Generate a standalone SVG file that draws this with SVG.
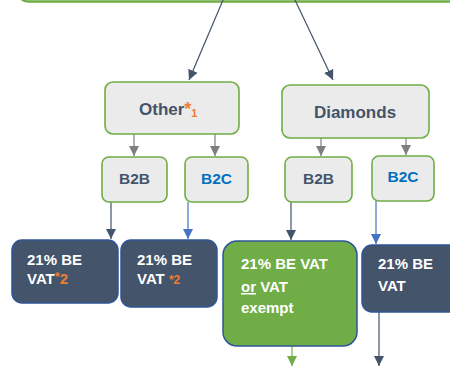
<svg xmlns="http://www.w3.org/2000/svg" width="450" height="366" viewBox="0 0 450 366">
<style>
text{font-family:"Liberation Sans",Arial,sans-serif;font-weight:bold}
.lb{fill:#ebebeb;stroke:#70ad47;stroke-width:1.6}
.db{fill:#44546a;stroke:#2f5597;stroke-width:1.5}
.gb{fill:#70ad47;stroke:#2f5597;stroke-width:1.5}
.t1{fill:#44546a;font-size:17px}
.t2{fill:#44546a;font-size:15.5px}
.tc{fill:#0070c0;font-size:15.5px}
.tw{fill:#ffffff;font-size:15px}
.or{fill:#ed7d31}
</style>
<defs>
<marker id="aD" markerUnits="userSpaceOnUse" markerWidth="12" markerHeight="12" refX="10" refY="5" orient="auto"><path d="M0,0 L10,5 L0,10 Z" fill="#44546a"/></marker>
<marker id="aG" markerUnits="userSpaceOnUse" markerWidth="12" markerHeight="12" refX="10" refY="5" orient="auto"><path d="M0,0 L10,5 L0,10 Z" fill="#7f7f7f"/></marker>
<marker id="aB" markerUnits="userSpaceOnUse" markerWidth="12" markerHeight="12" refX="10" refY="5" orient="auto"><path d="M0,0 L10,5 L0,10 Z" fill="#4472c4"/></marker>
<marker id="aN" markerUnits="userSpaceOnUse" markerWidth="12" markerHeight="12" refX="10" refY="5" orient="auto"><path d="M0,0 L10,5 L0,10 Z" fill="#70ad47"/></marker>
</defs>
<g id="top"><rect x="18" y="-40" width="460" height="41.5" rx="10" fill="#ffffff" stroke="#70ad47" stroke-width="2.5"/></g>
<g id="connectors" fill="none" stroke-width="1.2">
<line x1="223" y1="0" x2="189" y2="80" stroke="#44546a" marker-end="url(#aD)"/>
<line x1="295" y1="0" x2="333" y2="80" stroke="#44546a" marker-end="url(#aD)"/>
<line x1="134" y1="134" x2="134" y2="156" stroke="#7f7f7f" marker-end="url(#aG)"/>
<line x1="215" y1="134" x2="215" y2="156" stroke="#7f7f7f" marker-end="url(#aG)"/>
<line x1="321" y1="138" x2="321" y2="156" stroke="#7f7f7f" marker-end="url(#aG)"/>
<line x1="406" y1="138" x2="406" y2="155" stroke="#7f7f7f" marker-end="url(#aG)"/>
<line x1="111" y1="202" x2="111" y2="239" stroke="#44546a" marker-end="url(#aD)"/>
<line x1="188" y1="202" x2="188" y2="239" stroke="#4472c4" marker-end="url(#aB)"/>
<line x1="291" y1="202" x2="291" y2="240" stroke="#44546a" marker-end="url(#aD)"/>
<line x1="376" y1="201" x2="376" y2="244" stroke="#4472c4" marker-end="url(#aB)"/>
<line x1="292" y1="346" x2="292" y2="366" stroke="#70ad47" marker-end="url(#aN)"/>
<line x1="379" y1="312" x2="379" y2="366" stroke="#44546a" marker-end="url(#aD)"/>
</g>
<g id="other"><rect class="lb" x="105" y="82" width="134" height="52" rx="8"/>
<text class="t1" x="139" y="115">Other<tspan class="or" font-size="18">*</tspan><tspan class="or" font-size="11" dy="2">1</tspan></text></g>
<g id="diamonds"><rect class="lb" x="282" y="85" width="147" height="53" rx="8"/>
<text class="t1" x="355" y="118" text-anchor="middle">Diamonds</text></g>
<g id="other-b2b"><rect class="lb" x="102" y="157" width="65" height="45" rx="7"/>
<text class="t2" x="134.5" y="184" text-anchor="middle">B2B</text></g>
<g id="other-b2c"><rect class="lb" x="185" y="157" width="63" height="45" rx="7"/>
<text class="tc" x="216.5" y="184" text-anchor="middle">B2C</text></g>
<g id="diam-b2b"><rect class="lb" x="285" y="157" width="67" height="45" rx="7"/>
<text class="t2" x="318.5" y="184" text-anchor="middle">B2B</text></g>
<g id="diam-b2c"><rect class="lb" x="372" y="156" width="62" height="45" rx="7"/>
<text class="tc" x="403" y="182" text-anchor="middle">B2C</text></g>
<g id="r1"><rect class="db" x="12" y="240" width="106" height="63" rx="10"/>
<text class="tw" x="27" y="265">21% BE</text>
<text class="tw" x="27" y="284">VAT<tspan class="or" font-size="13" dy="-3">*</tspan><tspan class="or" dy="3">2</tspan></text></g>
<g id="r2"><rect class="db" x="121" y="240" width="96" height="67" rx="10"/>
<text class="tw" x="137" y="265">21% BE</text>
<text class="tw" x="137" y="284">VAT <tspan class="or" font-size="12">*2</tspan></text></g>
<g id="r3"><rect class="gb" x="223" y="241" width="134" height="105" rx="14"/>
<text class="tw" x="241" y="269">21% BE VAT</text>
<text class="tw" x="241" y="292"><tspan text-decoration="underline">or</tspan> VAT</text>
<text class="tw" x="241" y="313">exempt</text></g>
<g id="r4"><rect class="db" x="362" y="245" width="100" height="67" rx="10"/>
<text class="tw" x="378" y="269">21% BE</text>
<text class="tw" x="378" y="291">VAT</text></g>
</svg>
